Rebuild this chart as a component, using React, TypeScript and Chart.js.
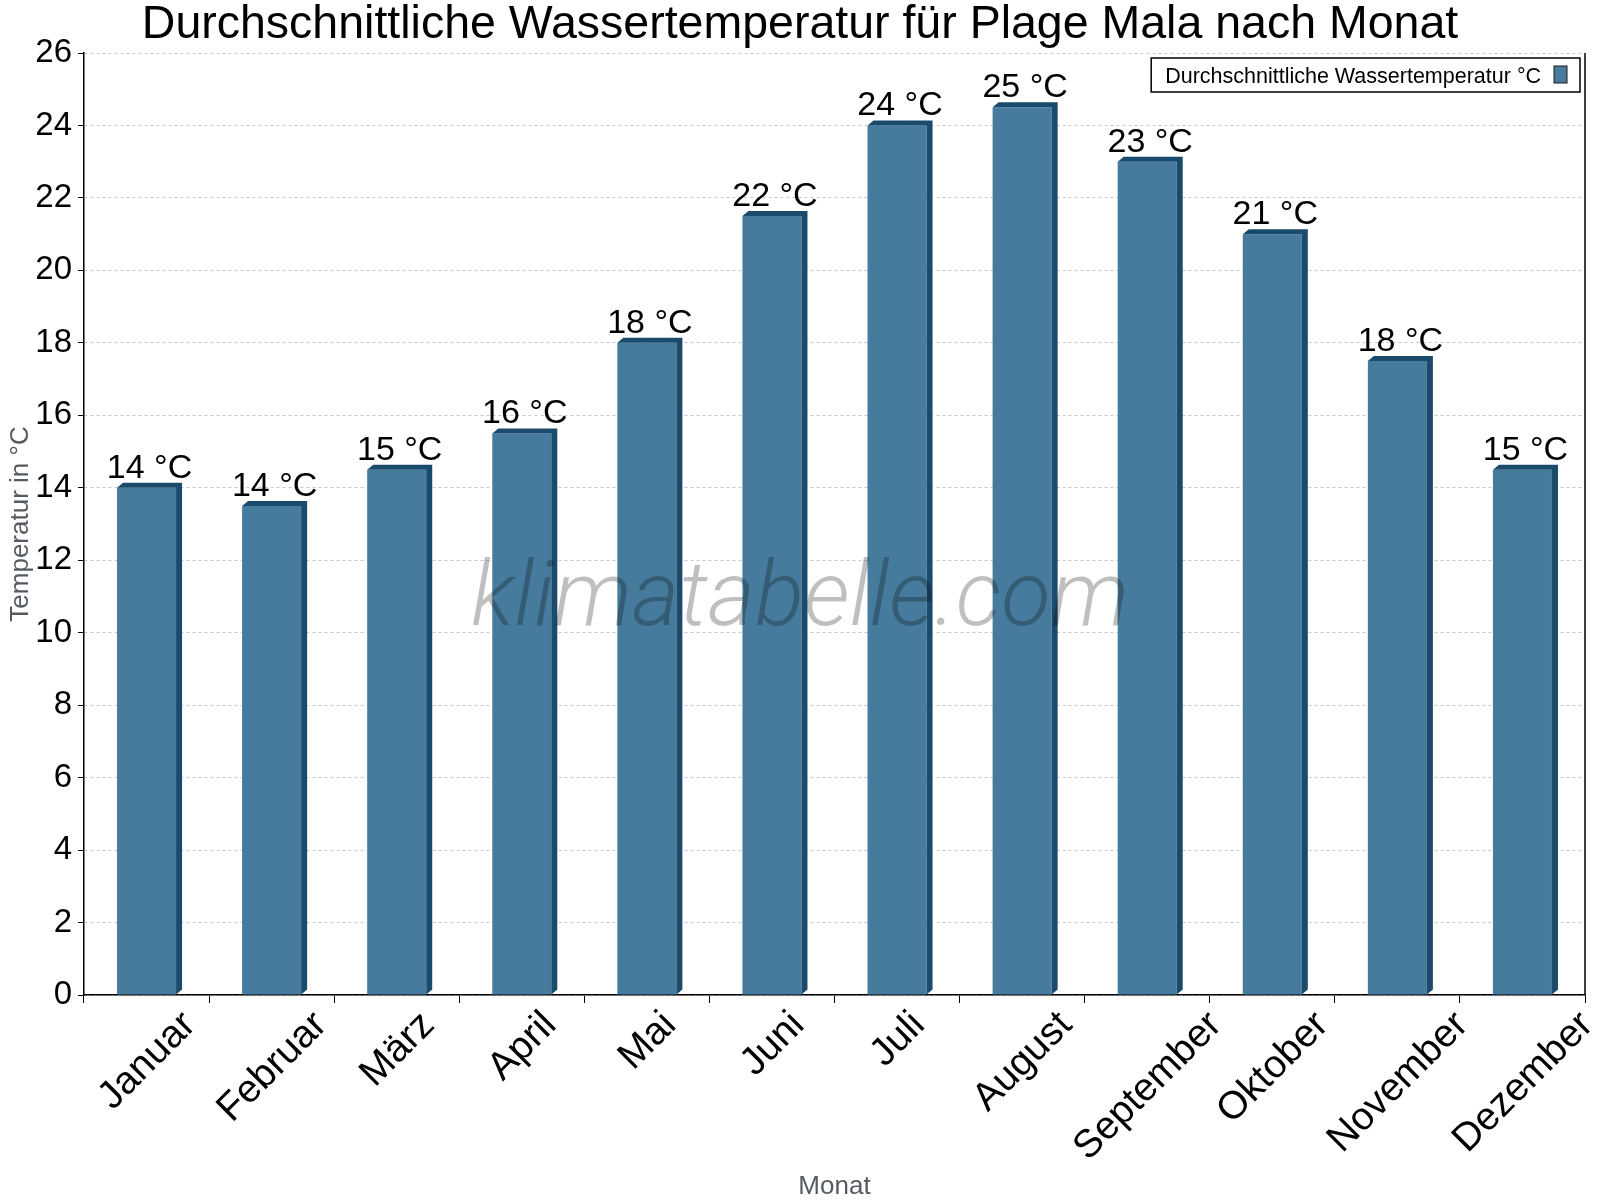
import { useEffect, useRef } from "react"
import { Chart, registerables } from "chart.js"

Chart.register(...registerables)

// Chart data
const months = [
  "Januar",
  "Februar",
  "März",
  "April",
  "Mai",
  "Juni",
  "Juli",
  "August",
  "September",
  "Oktober",
  "November",
  "Dezember",
]
const waterTemps = [14, 13.5, 14.5, 15.5, 18, 21.5, 24, 24.5, 23, 21, 17.5, 14.5]
const yMin = 0
const yMax = 26
const yStep = 2

const seriesLabel = "Durchschnittliche Wassertemperatur °C"
const chartTitle = "Durchschnittliche Wassertemperatur für Plage Mala nach Monat"
const yAxisTitle = "Temperatur in °C"
const xAxisTitle = "Monat"
const watermark = "klimatabelle.com"

const FONT = "'Liberation Sans', Arial, sans-serif"
const FRONT = "#467b9d"
const SIDE = "#1a4b6c"
const DX = 6
const DY = 5

// 3D faces on the bars, value labels, month labels, title, legend and watermark
const decorPlugin = {
  id: "decor",
  afterDatasetsDraw(chart: any) {
    const ctx = chart.ctx
    const meta = chart.getDatasetMeta(0)
    ctx.save()
    ctx.fillStyle = SIDE
    meta.data.forEach((bar: any) => {
      const { x, y, base, width } = bar.getProps(["x", "y", "base", "width"], true)
      const l = x - width / 2
      const r = x + width / 2
      ctx.beginPath()
      ctx.moveTo(l, y)
      ctx.lineTo(l + DX, y - DY)
      ctx.lineTo(r + DX, y - DY)
      ctx.lineTo(r + DX, base - DY)
      ctx.lineTo(r, base)
      ctx.lineTo(r, y)
      ctx.closePath()
      ctx.fill()
    })

    ctx.fillStyle = "#000"
    ctx.font = `34px ${FONT}`
    ctx.textAlign = "center"
    ctx.textBaseline = "alphabetic"
    meta.data.forEach((bar: any, i: number) => {
      ctx.fillText(`${Math.round(waterTemps[i])} °C`, bar.x + DX / 2, bar.y - DY - 5)
    })
    ctx.restore()
  },
  afterDraw(chart: any) {
    const { ctx, chartArea, width } = chart
    const xScale = chart.scales.x
    ctx.save()

    // right frame line
    ctx.strokeStyle = "#000"
    ctx.lineWidth = 1.5
    ctx.beginPath()
    ctx.moveTo(chartArea.right, chartArea.top)
    ctx.lineTo(chartArea.right, chartArea.bottom)
    ctx.stroke()

    // month labels, rotated 45° with their bounding box centred on the category
    ctx.fillStyle = "#000"
    ctx.font = `39px ${FONT}`
    ctx.textAlign = "right"
    ctx.textBaseline = "middle"
    months.forEach((m, i) => {
      const cx = xScale.getPixelForTick(i)
      const len = ctx.measureText(m).width
      ctx.save()
      ctx.translate(cx + len * 0.3535 + 1, chartArea.bottom + 24)
      ctx.rotate(-Math.PI / 4)
      ctx.fillText(m, 0, 0)
      ctx.restore()
    })

    // title
    ctx.fillStyle = "#000"
    ctx.font = `46.5px ${FONT}`
    ctx.textAlign = "center"
    ctx.textBaseline = "alphabetic"
    ctx.fillText(chartTitle, width / 2, 38)

    // legend (text left, swatch right, framed)
    ctx.font = `21.5px ${FONT}`
    const boxRight = chartArea.right - 5
    const swatchRight = boxRight - 13
    const swatchLeft = swatchRight - 13
    const textRight = swatchLeft - 13
    const textLeft = textRight - ctx.measureText(seriesLabel).width
    const boxLeft = textLeft - 14
    const boxTop = chartArea.top + 5
    const boxBottom = boxTop + 34
    ctx.fillStyle = "#fff"
    ctx.fillRect(boxLeft, boxTop, boxRight - boxLeft, boxBottom - boxTop)
    ctx.lineWidth = 1.5
    ctx.strokeStyle = "#000"
    ctx.strokeRect(boxLeft, boxTop, boxRight - boxLeft, boxBottom - boxTop)
    ctx.fillStyle = "#000"
    ctx.textAlign = "left"
    ctx.fillText(seriesLabel, textLeft, boxTop + 25)
    ctx.fillStyle = FRONT
    ctx.fillRect(swatchLeft, boxTop + 8, 13, 17)
    ctx.lineWidth = 1
    ctx.strokeStyle = "#1a1a1a"
    ctx.strokeRect(swatchLeft, boxTop + 8, 13, 17)

    // watermark
    ctx.font = `italic 300 90px Roboto`
    const w = ctx.measureText(watermark).width
    const size = (90 * 658) / w
    ctx.font = `italic 300 ${size}px Roboto`
    ctx.fillStyle = "rgba(0, 0, 0, 0.25)"
    ctx.textAlign = "center"
    ctx.fillText(watermark, 800, 625)

    ctx.restore()
  },
}

export default function App() {
  const chartRef = useRef<HTMLCanvasElement>(null)
  const chartInstance = useRef<Chart | null>(null)

  useEffect(() => {
    if (!chartRef.current) return
    if (chartInstance.current) {
      chartInstance.current.destroy()
    }
    const ctx = chartRef.current.getContext("2d")
    if (!ctx) return

    chartInstance.current = new Chart(ctx, {
      type: "bar",
      data: {
        labels: months,
        datasets: [
          {
            label: seriesLabel,
            data: waterTemps,
            backgroundColor: FRONT,
            borderWidth: 0,
            categoryPercentage: 1,
            barPercentage: 0.472,
          },
        ],
      },
      options: {
        responsive: false,
        animation: false,
        layout: { padding: { top: 53, right: 15, left: 0, bottom: 0 } },
        plugins: {
          legend: { display: false },
          title: { display: false },
          tooltip: { enabled: false },
        },
        scales: {
          x: {
            afterFit: (scale: any) => {
              scale.height = 205
            },
            grid: {
              display: true,
              drawOnChartArea: false,
              tickLength: 8,
              tickColor: "#000",
            },
            border: { display: true, color: "#000", width: 1.5 },
            ticks: {
              display: false,
              autoSkip: false,
            },
            title: {
              display: true,
              text: xAxisTitle,
              color: "#555b61",
              font: { family: FONT, size: 26, lineHeight: 1 },
              padding: { top: 0, bottom: 0 },
            },
          },
          y: {
            min: yMin,
            max: yMax,
            afterFit: (scale: any) => {
              scale.width = 84
            },
            grid: {
              color: "#c8c8c8",
              tickColor: "#000",
              tickLength: 6,
            },
            border: { display: true, color: "#000", width: 1.5, dash: [3, 3] },
            ticks: {
              stepSize: yStep,
              color: "#000",
              font: { family: FONT, size: 33 },
              padding: 6,
            },
            title: {
              display: true,
              text: yAxisTitle,
              color: "#555b61",
              font: { family: FONT, size: 26, lineHeight: 1.2 },
              padding: { top: 5, bottom: 0 },
            },
          },
        },
      },
      plugins: [decorPlugin],
    })

    return () => {
      if (chartInstance.current) {
        chartInstance.current.destroy()
      }
    }
  }, [])

  return (
    <div style={{ position: "absolute", left: 0, top: 0, width: 1600, height: 1200, background: "#fff" }}>
      <canvas ref={chartRef} width={1600} height={1200} />
    </div>
  )
}
